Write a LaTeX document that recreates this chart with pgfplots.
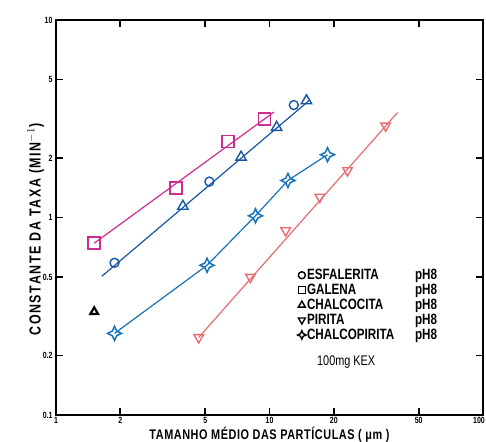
\documentclass[border=0pt]{standalone}
\usepackage{fontspec}
\setmainfont{Liberation Sans}[FakeStretch=0.78]
\newfontfamily\xlabfont{Liberation Sans}[FakeStretch=0.78, LetterSpace=4]
\newfontfamily\ylabfont{Liberation Sans}[FakeStretch=0.78, LetterSpace=10]
\usepackage{pgfplots}
\pgfplotsset{compat=1.18}

\definecolor{galena}{RGB}{205,45,145}
\definecolor{esfal}{RGB}{25,85,165}
\definecolor{calcop}{RGB}{20,115,185}
\definecolor{pirita}{RGB}{232,108,112}

% four pointed star for chalcopirita
\pgfdeclareplotmark{cstar}{%
  \pgfpathmoveto{\pgfpoint{0pt}{1.4\pgfplotmarksize}}%
  \pgfpathlineto{\pgfpoint{0.45\pgfplotmarksize}{0.45\pgfplotmarksize}}%
  \pgfpathlineto{\pgfpoint{1.4\pgfplotmarksize}{0pt}}%
  \pgfpathlineto{\pgfpoint{0.45\pgfplotmarksize}{-0.45\pgfplotmarksize}}%
  \pgfpathlineto{\pgfpoint{0pt}{-1.4\pgfplotmarksize}}%
  \pgfpathlineto{\pgfpoint{-0.45\pgfplotmarksize}{-0.45\pgfplotmarksize}}%
  \pgfpathlineto{\pgfpoint{-1.4\pgfplotmarksize}{0pt}}%
  \pgfpathlineto{\pgfpoint{-0.45\pgfplotmarksize}{0.45\pgfplotmarksize}}%
  \pgfpathclose
  \pgfusepathqstroke}

\begin{document}
\begin{tikzpicture}
\begin{axis}[
    xmode=log, ymode=log,
    scale only axis,
    width=427bp, height=395bp,
    xmin=1, xmax=100, ymin=0.1, ymax=10,
    clip=false,
    axis line style={line width=1.8bp, black},
    xtick={1,2,5,10,20,50,100},
    xticklabels={1,2,5,10,20,50,\hspace*{-8bp}100},
    ytick={0.1,0.2,0.5,1,2,5,10},
    yticklabels={0.1,0.2,0.5,1,2,5,10},
    major tick length=7bp,
    every major tick/.append style={line width=1.6bp, black},
    tick label style={font=\bfseries\fontsize{9}{10}\selectfont},
    xticklabel style={yshift=1bp},
    xlabel={\xlabfont\bfseries TAMANHO MÉDIO DAS PARTÍCULAS ( μm )},
    ylabel={\ylabfont\bfseries CONSTANTE DA TAXA (MIN$^{-1}$)},
    label style={font=\fontsize{14}{16}\selectfont},
    ylabel style={font=\fontsize{16}{18}\selectfont, yshift=-8bp, xshift=-12bp},
    xlabel style={yshift=4bp},
    legend style={at={(0.5585,0.377)}, anchor=north west, draw=none, fill=none,
        font=\bfseries\fontsize{15}{15}\selectfont, row sep=1bp,
        nodes={inner sep=1bp}},
    legend cell align=left,
]
% galena
\addplot[galena, line width=1.2bp, forget plot] coordinates {(1.51,0.741) (10.5,3.42)};
\addplot[galena, only marks, mark=square, mark size=6bp, line width=1.6bp, forget plot]
    coordinates {(1.51,0.741) (3.66,1.41) (6.40,2.43) (9.48,3.15)};
% esfalerita / chalcocita
\addplot[esfal, line width=1.2bp, forget plot] coordinates {(1.64,0.504) (15.5,3.95)};
\addplot[esfal, only marks, mark=o, mark size=4.5bp, line width=1.4bp, forget plot]
    coordinates {(1.88,0.590) (5.23,1.52) (13.0,3.71)};
\addplot[esfal, only marks, mark=triangle, mark size=6bp, line width=1.4bp, forget plot]
    coordinates {(3.93,1.14) (7.36,2.02) (10.8,2.86) (14.9,3.90)};
% chalcopirita
\addplot[calcop, line width=1.2bp, mark=cstar, mark size=5bp, mark options={line width=1.5bp}, forget plot]
    coordinates {(1.88,0.259) (5.10,0.573) (8.60,1.02) (12.2,1.54) (18.7,2.08)};
% pirita
\addplot[pirita, line width=1.2bp, forget plot] coordinates {(4.66,0.247) (39.8,3.40)};
\addplot[pirita, only marks, mark=triangle, mark size=5.5bp, mark options={rotate=180}, line width=1.4bp, forget plot]
    coordinates {(4.66,0.247) (8.14,0.499) (11.9,0.859) (17.2,1.27) (23.2,1.73) (35.0,2.91)};
% isolated point
\addplot[black, only marks, mark=triangle, mark size=4.5bp, line width=2.2bp, forget plot]
    coordinates {(1.51,0.333)};

\addlegendimage{only marks, mark=o, black, mark size=3.5bp, line width=1.4bp}
\addlegendentry{\makebox[108bp][l]{ESFALERITA}pH8}
\addlegendimage{only marks, mark=square, black, mark size=3.5bp, line width=1.4bp}
\addlegendentry{\makebox[108bp][l]{GALENA}pH8}
\addlegendimage{only marks, mark=triangle, black, mark size=4bp, line width=1.4bp}
\addlegendentry{\makebox[108bp][l]{CHALCOCITA}pH8}
\addlegendimage{only marks, mark=triangle, mark options={rotate=180}, black, mark size=4bp, line width=1.4bp}
\addlegendentry{\makebox[108bp][l]{PIRITA}pH8}
\addlegendimage{only marks, mark=cstar, black, mark size=3bp, line width=1.4bp}
\addlegendentry{\makebox[108bp][l]{CHALCOPIRITA}pH8}

\node[anchor=west, font=\fontsize{14}{14}\selectfont] at (axis cs:16.1,0.185) {100mg KEX};

% frame and inward ticks
\draw[line width=1.8bp, black] (rel axis cs:0,0) rectangle (rel axis cs:1,1);
\pgfplotsinvokeforeach{2,5,10,20,50}{
  \draw[line width=1.6bp, black] (axis cs:#1,0.1) -- ++(0bp,7bp);
  \draw[line width=1.6bp, black] (axis cs:#1,10) -- ++(0bp,-7bp);
}
\pgfplotsinvokeforeach{0.2,0.5,1,2,5}{
  \draw[line width=1.6bp, black] (axis cs:1,#1) -- ++(7bp,0bp);
  \draw[line width=1.6bp, black] (axis cs:100,#1) -- ++(-7bp,0bp);
}
\end{axis}
\pgfresetboundingbox
\path[use as bounding box] (-56bp,-27bp) rectangle (430bp,415bp);
\end{tikzpicture}
\end{document}
